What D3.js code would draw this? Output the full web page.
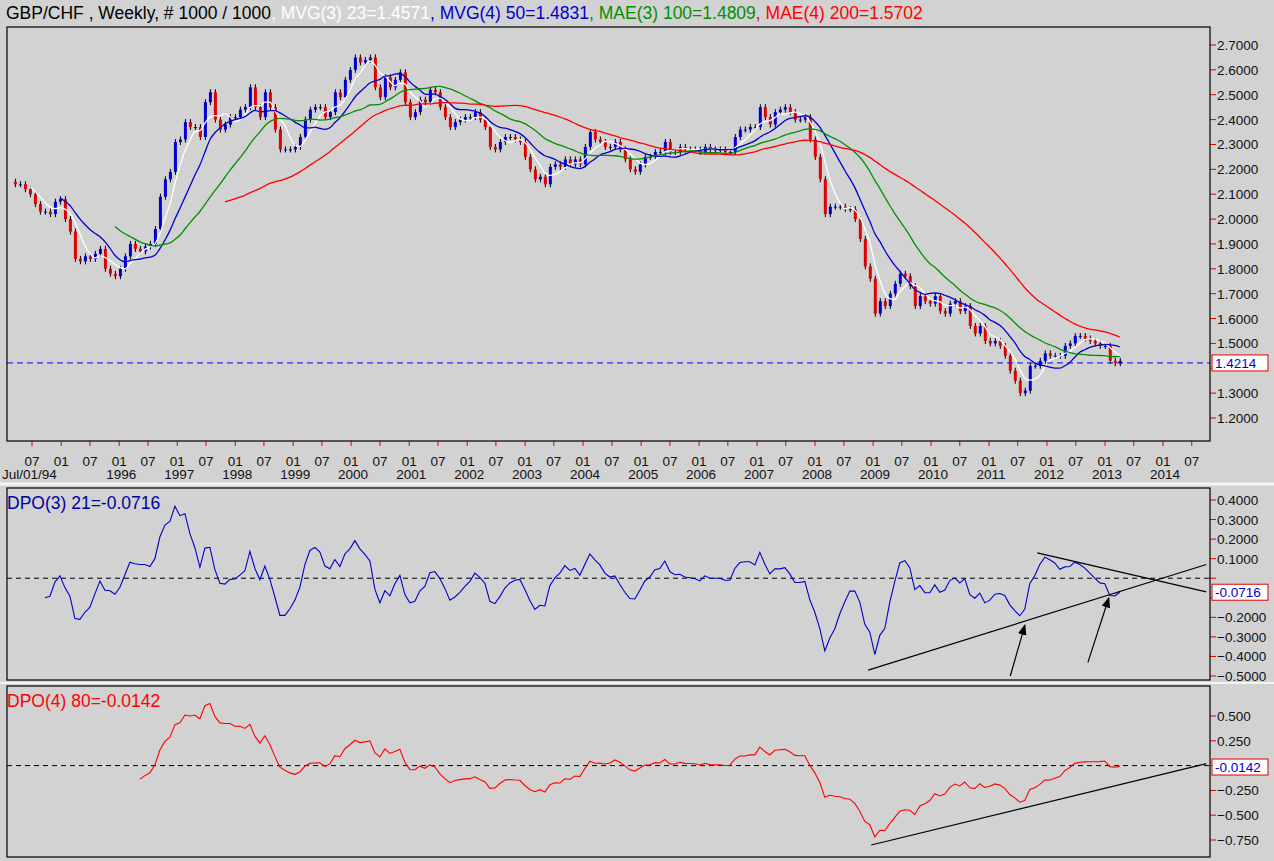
<!DOCTYPE html>
<html><head><meta charset="utf-8">
<script src="https://cdn.jsdelivr.net/npm/d3@7"></script>
<style>body{margin:0;background:#d2d2d2}svg{display:block;font-family:"Liberation Sans",Arial,sans-serif}</style>
</head><body><div id="chart"></div>
<script>
const closes = [2.15,2.14,2.14,2.12,2.10,2.06,2.03,2.03,2.02,2.07,2.08,2.00,1.95,1.84,1.83,1.85,1.84,1.86,1.88,1.80,
  1.78,1.77,1.80,1.85,1.90,1.88,1.87,1.89,1.90,1.96,2.09,2.16,2.19,2.31,2.32,2.39,2.37,2.37,2.33,2.47,
  2.51,2.40,2.36,2.38,2.41,2.41,2.44,2.45,2.53,2.45,2.41,2.51,2.45,2.36,2.28,2.28,2.28,2.29,2.33,2.40,
  2.44,2.45,2.45,2.41,2.43,2.51,2.49,2.56,2.60,2.65,2.63,2.64,2.65,2.53,2.49,2.57,2.53,2.56,2.59,2.47,
  2.41,2.43,2.48,2.47,2.52,2.51,2.45,2.41,2.37,2.39,2.40,2.41,2.41,2.43,2.40,2.37,2.29,2.28,2.31,2.33,
  2.33,2.32,2.31,2.25,2.20,2.16,2.17,2.14,2.21,2.22,2.21,2.24,2.22,2.24,2.22,2.29,2.35,2.32,2.31,2.29,
  2.29,2.31,2.28,2.24,2.20,2.19,2.22,2.25,2.25,2.27,2.27,2.31,2.27,2.27,2.29,2.28,2.28,2.28,2.27,2.29,
  2.28,2.28,2.28,2.27,2.27,2.33,2.36,2.36,2.37,2.37,2.45,2.41,2.38,2.43,2.44,2.45,2.43,2.40,2.40,2.41,
  2.32,2.25,2.16,2.02,2.05,2.05,2.05,2.04,2.04,2.00,1.92,1.81,1.76,1.62,1.67,1.65,1.70,1.74,1.78,1.77,
  1.73,1.65,1.69,1.67,1.66,1.69,1.63,1.62,1.66,1.67,1.63,1.65,1.57,1.54,1.57,1.51,1.50,1.51,1.49,1.45,
  1.39,1.35,1.30,1.31,1.41,1.41,1.43,1.46,1.45,1.45,1.45,1.49,1.50,1.53,1.53,1.52,1.51,1.50,1.49,1.49,
  1.43,1.42,1.43];
const startDate = new Date(1994, 1, 12);
const stepDays = 31.49;
const maLengths = [5, 11, 22, 44];
const maColors = ["#ffffff", "#0000d0", "#009000", "#ff0000"];
const headerParts = [
  ["GBP/CHF , Weekly, # 1000 / 1000", "#000"], [", MVG(3) 23=1.4571", "#fff"], [", MVG(4) 50=1.4831", "#0000d0"],
  [", MAE(3) 100=1.4809", "#009000"], [", MAE(4) 200=1.5702", "#ff0000"]];
const priceTicks = [1.2,1.3,1.4,1.5,1.6,1.7,1.8,1.9,2.0,2.1,2.2,2.3,2.4,2.5,2.6,2.7];
const dpo1Ticks = [0.4,0.3,0.2,0.1,0,-0.1,-0.2,-0.3,-0.4,-0.5];
const dpo2Ticks = [0.5,0.25,0,-0.25,-0.5,-0.75];
const lastPrice = 1.4214, lastDpo1 = -0.0716, lastDpo2 = -0.0142;
// trend lines drawn on the indicator panels: [date, value] pairs
const dpo1Lines = [[[2008,11,1],-0.47],[[2014,9,1],0.07]], dpo1Lines2 = [[[2011,10,1],0.13],[[2014,9,1],-0.07]];
const dpo2Line = [[[2008,11,20],-0.80],[[2014,9,1],0.02]];
const arrows = [[[2011,4,15],-0.5,[2011,7,15],-0.24],[[2012,8,15],-0.43],[[2013,0,25],-0.1]];

const W = 1274, H = 861, L = 7, R = 1210;
const dates = closes.map((c, i) => new Date(+startDate + i * stepDays * 864e5));
const x = d3.scaleTime().domain([new Date(1994,6,1), new Date(2014,0,1)]).range([32, 32 + 39 * 29]);
const panels = [
  {top: 27, bot: 441, y: d3.scaleLinear().domain([1.2, 2.7]).range([418, 45])},
  {top: 488, bot: 680, y: d3.scaleLinear().domain([-0.5, 0.4]).range([676, 500])},
  {top: 686, bot: 857, y: d3.scaleLinear().domain([-0.75, 0.5]).range([840, 716])}];

const svg = d3.select("#chart").append("svg").attr("width", W).attr("height", H);
svg.append("rect").attr("width", W).attr("height", H).attr("fill", "#d2d2d2");
svg.append("line").attr("x1", 0).attr("x2", W).attr("y1", 484).attr("y2", 484).attr("stroke", "#f4f4f4").attr("stroke-width", 3);
svg.append("line").attr("x1", 0).attr("x2", W).attr("y1", 683).attr("y2", 683).attr("stroke", "#f4f4f4").attr("stroke-width", 2);

function sma(arr, n, i) {
  if (i < n - 1) return null;
  return d3.mean(arr.slice(i - n + 1, i + 1));
}

// header
const hdr = svg.append("text").attr("x", 6).attr("y", 19).attr("font-size", 17.5);
headerParts.forEach(([t, c]) => hdr.append("tspan").attr("fill", c).text(t));

// panel frames + right axes (labels under the value box are hidden, as in the reference)
function rightAxis(p, ticks, fmt, boxVal) {
  const g = svg.append("g");
  ticks.forEach(v => {
    g.append("line").attr("x1", R).attr("x2", R + 6).attr("y1", p.y(v)).attr("y2", p.y(v)).attr("stroke", "#e00000");
    if (Math.abs(p.y(v) - p.y(boxVal)) < 15) return;
    g.append("text").attr("x", R + 7).attr("y", p.y(v) + 5).attr("font-size", 13.5).attr("fill", "#111").text(fmt(v));
  });
}
function valueBox(p, v, txt) {
  svg.append("rect").attr("x", R + 2).attr("y", p.y(v) - 8).attr("width", 56).attr("height", 16)
    .attr("fill", "#fff").attr("stroke", "#e00000");
  svg.append("text").attr("x", R + 5).attr("y", p.y(v) + 5).attr("font-size", 13.5).attr("fill", "#0000d0").text(txt);
}
rightAxis(panels[0], priceTicks, d3.format(".4f"), lastPrice);
rightAxis(panels[1], dpo1Ticks, d3.format(".4f"), lastDpo1);
rightAxis(panels[2], dpo2Ticks, v => v === 0 ? "0" : d3.format(".3f")(v), lastDpo2);

// x axis ticks
const halfYears = d3.timeMonth.every(6).range(new Date(1994,6,1), new Date(2014,7,1));
halfYears.forEach(d => {
  svg.append("line").attr("x1", x(d)).attr("x2", x(d)).attr("y1", 441).attr("y2", 446).attr("stroke", "#e00000");
  svg.append("text").attr("x", x(d)).attr("y", 466).attr("text-anchor", "middle").attr("font-size", 13.5)
    .attr("fill", "#111").text(d.getMonth() === 0 ? "01" : "07");
  if (d.getMonth() === 0 && d.getFullYear() > 1995)
    svg.append("text").attr("x", x(d) + 2).attr("y", 479).attr("text-anchor", "middle").attr("font-size", 13.5)
      .attr("fill", "#111").text(d.getFullYear());
});
svg.append("text").attr("x", 2).attr("y", 479).attr("font-size", 13.5).attr("fill", "#111").text("Jul/01/94");

// candles (open = previous close)
const p0 = panels[0];
closes.forEach((c, i) => {
  if (i === 0) return;
  const o = closes[i - 1], up = c >= o;
  const y1 = p0.y(Math.max(o, c)), y2 = p0.y(Math.min(o, c));
  svg.append("line").attr("x1", x(dates[i]) + 0.5).attr("x2", x(dates[i]) + 0.5)
    .attr("y1", y1 - 3).attr("y2", y2 + 3).attr("stroke", "#000");
  svg.append("rect").attr("x", x(dates[i]) - 1).attr("y", y1).attr("width", 3).attr("height", Math.max(1, y2 - y1))
    .attr("fill", up ? "#0000d0" : "#e00000");
});

// moving averages
maLengths.forEach((n, k) => {
  const pts = closes.map((c, i) => [dates[i], sma(closes, n, i)]).filter(d => d[1] !== null);
  svg.append("path").attr("d", d3.line().curve(d3.curveMonotoneX).x(d => x(d[0])).y(d => p0.y(d[1]))(pts))
    .attr("fill", "none").attr("stroke", maColors[k]).attr("stroke-width", 1.3);
});
svg.append("line").attr("x1", L).attr("x2", R).attr("y1", p0.y(lastPrice)).attr("y2", p0.y(lastPrice))
  .attr("stroke", "#0000ff").attr("stroke-dasharray", "6,4");

// DPO panels
function dpo(n, shift) {
  return closes.map((c, i) => {
    const m = sma(closes, n, i - shift);
    return m === null || i - shift < 0 ? null : [dates[i], c - m];
  }).filter(d => d);
}
function dpoPanel(p, data, color) {
  svg.append("line").attr("x1", L).attr("x2", R).attr("y1", p.y(0)).attr("y2", p.y(0))
    .attr("stroke", "#000").attr("stroke-dasharray", "5,4");
  svg.append("path").attr("d", d3.line().x(d => x(d[0])).y(d => p.y(d[1]))(data))
    .attr("fill", "none").attr("stroke", color).attr("stroke-width", 1.1);
}
dpoPanel(panels[1], dpo(5, 3), "#0000c8");
dpoPanel(panels[2], dpo(18, 9), "#ff0000");

const dt = a => new Date(a[0], a[1], a[2]);
panels.forEach((p, i) => svg.append("clipPath").attr("id", "c" + i).append("rect")
  .attr("x", L).attr("y", p.top).attr("width", R - L).attr("height", p.bot - p.top));
[[dpo1Lines, 1], [dpo1Lines2, 1], [dpo2Line, 2]].forEach(([ln, k]) => {
  const p = panels[k];
  svg.append("line").attr("clip-path", `url(#c${k})`)
    .attr("x1", x(dt(ln[0][0]))).attr("y1", p.y(ln[0][1])).attr("x2", x(dt(ln[1][0]))).attr("y2", p.y(ln[1][1]))
    .attr("stroke", "#000").attr("stroke-width", 1.2);
});
svg.append("defs").append("marker").attr("id", "ah").attr("viewBox", "0 0 10 10").attr("refX", 9).attr("refY", 5)
  .attr("markerWidth", 9).attr("markerHeight", 9).attr("orient", "auto")
  .append("path").attr("d", "M0,1L10,5L0,9Z").attr("fill", "#000");
const arrowDefs = [[arrows[0][0], arrows[0][1], arrows[0][2], arrows[0][3]], [arrows[1][0], arrows[1][1], arrows[2][0], arrows[2][1]]];
arrowDefs.forEach(a => {
  const p = panels[1];
  svg.append("line").attr("x1", x(dt(a[0]))).attr("y1", p.y(a[1])).attr("x2", x(dt(a[2]))).attr("y2", p.y(a[3]))
    .attr("stroke", "#000").attr("stroke-width", 1.2).attr("marker-end", "url(#ah)");
});

// frames
panels.forEach(p => svg.append("rect").attr("x", L).attr("y", p.top).attr("width", R - L).attr("height", p.bot - p.top)
  .attr("fill", "none").attr("stroke", "#000").attr("stroke-width", 1.2));
valueBox(panels[0], lastPrice, "1.4214");
valueBox(panels[1], lastDpo1, "-0.0716");
valueBox(panels[2], lastDpo2, "-0.0142");
svg.append("text").attr("x", 7).attr("y", 509).attr("font-size", 17.5).attr("fill", "#0000a8").text("DPO(3) 21=-0.0716");
svg.append("text").attr("x", 7).attr("y", 707).attr("font-size", 17.5).attr("fill", "#ff0000").text("DPO(4) 80=-0.0142");
</script></body></html>
